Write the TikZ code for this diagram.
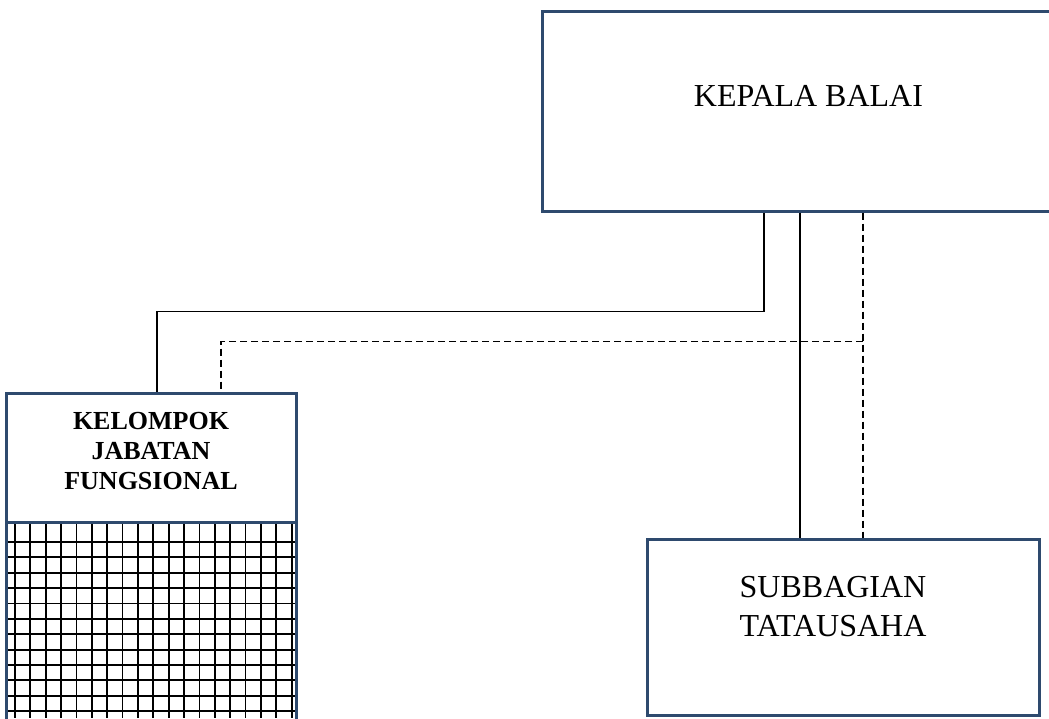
\documentclass[tikz,border=0pt]{standalone}
\usepackage{fontspec}
\setmainfont{Liberation Serif}
\definecolor{boxblue}{RGB}{46,74,110}

\begin{document}
\begin{tikzpicture}[x=0.5pt, y=-0.5pt,
  box/.style={draw=boxblue, line width=1.5pt, fill=white, inner sep=0pt},
  boxtext/.style={font=\fontsize{16}{19.5}\selectfont, align=center},
  boldtext/.style={font=\fontsize{13}{15}\selectfont\bfseries, align=center},
  link/.style={line width=0.75pt},
  dashlink/.style={line width=0.75pt, dash pattern=on 3.5pt off 2pt},
  gridline/.style={line width=0.9pt}]
 \useasboundingbox (0,0) rectangle (1049,718);
 \clip (0,0) rectangle (1049,718);

 \node[box, minimum width=266.5pt, minimum height=100pt, label={[boxtext, yshift=7.5pt]center:KEPALA BALAI}] (balai) at (808.5,111) {};
 \node[box, minimum width=145pt, minimum height=64.5pt, label={[boldtext, yshift=3.25pt]center:KELOMPOK\\JABATAN\\FUNGSIONAL}] (kelompok) at (151,457.5) {};
 \node[box, minimum width=196pt, minimum height=88pt, label={[boxtext, xshift=-5pt, yshift=10pt]center:SUBBAGIAN\\TATAUSAHA}] (subbag) at (843,627) {};

 \foreach \i in {0,...,18}
  \draw[gridline] (15+15.37*\i,522) -- (15+15.37*\i,718);
 \foreach \j in {0,...,11}
  \draw[gridline] (6,542+15.37*\j) -- (296,542+15.37*\j);
 \node[box, fill=none, minimum width=145pt, minimum height=119pt] (grid) at (151,641) {};

 \draw[link] ([xshift=-22.25pt]balai.south) -- ++(0,99) -| ([xshift=3pt]kelompok.north);
 \draw[link] ([xshift=-4.25pt]balai.south) -- ([xshift=-21.5pt]subbag.north);
 \draw[dashlink] ([xshift=27.25pt]balai.south) -- ([xshift=10pt]subbag.north);
 \coordinate (tap) at ([xshift=27.25pt, yshift=-64.5pt]balai.south);
 \draw[dashlink] (tap) -| ([xshift=35pt]kelompok.north);
\end{tikzpicture}
\end{document}
